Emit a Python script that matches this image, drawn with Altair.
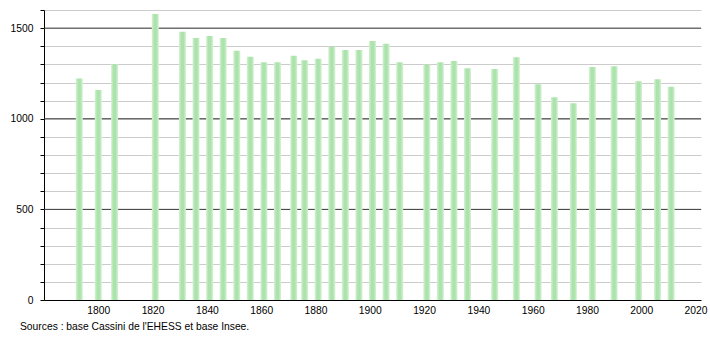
import altair as alt
import pandas as pd

years = [1793, 1800, 1806, 1821, 1831, 1836, 1841, 1846, 1851, 1856, 1861, 1866,
         1872, 1876, 1881, 1886, 1891, 1896, 1901, 1906, 1911, 1921, 1926, 1931,
         1936, 1946, 1954, 1962, 1968, 1975, 1982, 1990, 1999, 2006, 2011]
population = [1222, 1159, 1301, 1578, 1480, 1445, 1456, 1445, 1375, 1342, 1312, 1312,
              1347, 1323, 1331, 1397, 1379, 1379, 1429, 1414, 1312, 1300, 1312, 1318,
              1279, 1274, 1340, 1190, 1118, 1085, 1285, 1290, 1207, 1218, 1176]
major_lines = [500, 1000, 1500]
y_ticks = list(range(0, 1601, 100))
x_ticks = list(range(1800, 2021, 20))

df = pd.DataFrame({"year": years, "pop": population})
df_major = pd.DataFrame({"v": major_lines})

FONT = "Liberation Sans"

x_scale = alt.Scale(domain=[1780, 2022], nice=False, zero=False, padding=0)
y_scale = alt.Scale(domain=[0, 1600], nice=False, padding=0)

y_axis = alt.Axis(
    title=None, values=y_ticks, format="d",
    labelExpr="datum.value % 500 === 0 ? datum.label : ''",
    grid=True, gridColor="#cccccc", gridWidth=1,
    tickColor="#000000", tickSize=4, domainColor="#000000",
    labelColor="#000000", labelFont=FONT, labelFontSize=10.3, labelPadding=7,
)

rules = alt.Chart(df_major).mark_rule(color="#3a3a3a", strokeWidth=1).encode(
    y=alt.Y("v:Q", scale=y_scale, axis=y_axis)
)

gradient = alt.Gradient(
    gradient="linear",
    x1=0, x2=1, y1=0, y2=0,
    stops=[
        alt.GradientStop(color="#d6f2d6", offset=0),
        alt.GradientStop(color="#ace3ac", offset=0.35),
        alt.GradientStop(color="#ace3ac", offset=0.65),
        alt.GradientStop(color="#d6f2d6", offset=1),
    ],
)

bars = alt.Chart(df).mark_bar(width=7, color=gradient).encode(
    x=alt.X(
        "year:Q",
        scale=x_scale,
        axis=alt.Axis(
            title=None, values=x_ticks, format="d", grid=False, ticks=False,
            domainColor="#000000", labelColor="#000000", labelFont=FONT,
            labelFontSize=10.3, labelPadding=5,
        ),
    ),
    y=alt.Y("pop:Q", scale=y_scale, axis=y_axis),
)

chart = (
    alt.layer(rules, bars)
    .properties(
        width=657,
        height=290,
        autosize="none",
        padding={"left": 44, "top": 10, "right": 9, "bottom": 40},
        title=alt.TitleParams(
            "Sources : base Cassini de l'EHESS et base Insee.",
            orient="bottom", anchor="start", frame="group", dx=-24, offset=7,
            font=FONT, fontSize=10.3, fontWeight="normal", color="#000000",
        ),
    )
    .configure_view(stroke=None)
)

chart.save("out.html", embed_options={"renderer": "svg", "actions": False})
